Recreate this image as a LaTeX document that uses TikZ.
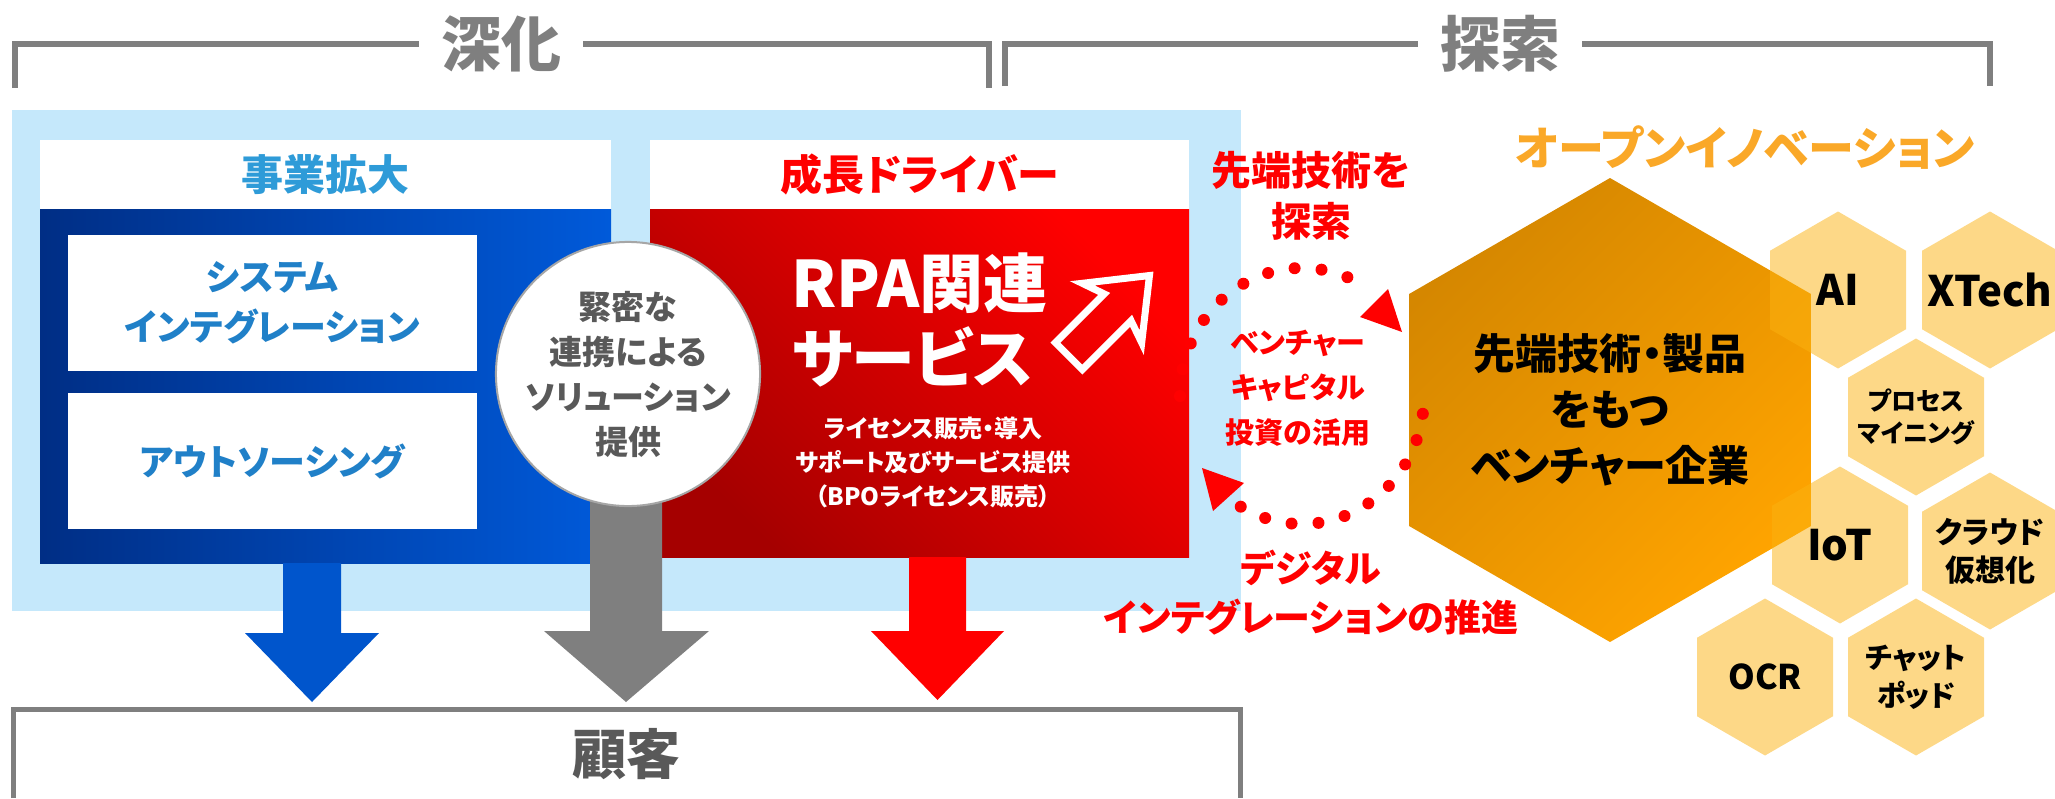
\documentclass[tikz,border=0pt]{standalone}
\usepackage{fontspec}
\setmainfont{Noto Sans CJK JP}[RawFeature=+palt]
\usetikzlibrary{shapes.geometric}

\definecolor{bracketgray}{RGB}{127,127,127}
\definecolor{textgray}{RGB}{89,89,89}
\definecolor{circlegray}{RGB}{166,166,166}
\definecolor{paleblue}{RGB}{197,232,251}
\definecolor{navy}{RGB}{0,46,133}
\definecolor{brightblue}{RGB}{0,90,218}
\definecolor{arrowblue}{RGB}{0,85,204}
\definecolor{skyblue}{RGB}{46,155,216}
\definecolor{textblue}{RGB}{32,128,200}
\definecolor{darkred}{RGB}{165,0,0}
\definecolor{amberdark}{RGB}{213,135,0}
\definecolor{amberlight}{RGB}{255,164,0}
\definecolor{hexorange}{RGB}{251,178,16}
\definecolor{openorange}{RGB}{250,168,40}

\tikzset{
  bracket/.style={draw=bracketgray, line width=6pt},
  heading/.style={text=bracketgray, inner sep=22pt, font=\fontsize{60}{60}\selectfont\bfseries},
  headbox/.style={fill=white, inner sep=0pt, minimum height=69pt, font=\fontsize{42}{42}\selectfont\bfseries},
  whitebox/.style={fill=white, inner sep=0pt, minimum width=409pt, minimum height=136pt,
    text=textblue, align=center, font=\fontsize{36}{50}\selectfont\bfseries},
  redtext/.style={text=red, align=center},
  honeycomb/.style={regular polygon, regular polygon sides=6, shape border rotate=30,
    minimum size=157pt, inner sep=0pt, fill=hexorange, fill opacity=0.5},
  hexlabel/.style={align=center, inner sep=0pt},
  dots/.style={draw=red, line width=12pt, line cap=round, dash pattern=on 0pt off 27pt},
}

\begin{document}
\begin{tikzpicture}[x=1pt, y=-1pt]
  \useasboundingbox (0,0) rectangle (2055,798);

  % Brackets on top
  \node[heading] (deepen) at (501,44) {深化};
  \node[heading] (explore) at (1500,44) {探索};
  \draw[bracket] (15,88) |- (deepen.west);
  \draw[bracket] (deepen.east) -| (989,88);
  \draw[bracket] (1005,86) |- (explore.west);
  \draw[bracket] (explore.east) -| (1990,86);

  % Light blue background
  \fill[paleblue] (12,110) rectangle (1241,611);

  % Left panel
  \node[headbox, minimum width=571pt, text=skyblue] (bizhead) at (325.5,174.5) {事業拡大};
  \node[inner sep=0pt, minimum width=571pt, minimum height=354pt,
        left color=navy, right color=brightblue] (bizbox) at (325.5,386) {};
  \node[whitebox] (sysint) at (272.5,303) {システム\\インテグレーション};
  \node[whitebox] (outsrc) at (272.5,461) {アウトソーシング};

  % Right panel
  \node[headbox, minimum width=539pt, text=red] (growhead) at (919.5,174.5) {成長ドライバー};
  \node[inner sep=0pt, minimum width=539pt, minimum height=348pt,
        left color=darkred, right color=red, shading angle=135] (rpabox) at (919.5,383) {};

  % Down arrows
  \fill[bracketgray] (590,374) -- (590,631) -- (544,631) -- (626,702)
    -- (709,631) -- (662,631) -- (662,374) -- cycle;
  \fill[arrowblue] (283,563) -- (283,633) -- (245,633) -- (312,702)
    -- (379,633) -- (341,633) -- (341,563) -- cycle;
  \fill[red] (909,557) -- (909,631) -- (871,631) -- (937.5,700)
    -- (1004,631) -- (966,631) -- (966,557) -- cycle;

  % Circle in the middle
  \node[circle, draw=circlegray, line width=2pt, fill=white, minimum size=255pt, inner sep=0pt,
        text=textgray, align=center, font=\fontsize{33}{45}\selectfont\bfseries]
        (link) at (628,374) {緊密な\\連携による\\ソリューション\\提供};

  % RPA texts
  \node[anchor=west, text=white, align=left, font=\fontsize{64}{75}\selectfont\bfseries]
        (rpa) at (788,320) {RPA関連\\サービス};
  \node[text=white, align=center, font=\fontsize{24}{34}\selectfont\bfseries]
        (license) at (933,462) {ライセンス販売・導入\\サポート及びサービス提供\\（BPOライセンス販売）};

  % Outlined arrow
  \begin{scope}[shift={(1153,272)}, rotate=45]
    \draw[white, line width=7pt, line join=miter]
      (-5,0) -- (-58,-42) -- (-50,-19) -- (-119,-19) -- (-119,19) -- (-50,19) -- (-58,42) -- cycle;
  \end{scope}

  % Customer box
  \draw[bracket, line width=5pt] (13,798) |- (1240,709) -- (1240,798);
  \node[text=textgray, font=\fontsize{54}{54}\selectfont\bfseries] (customer) at (626,754) {顧客};

  % Open innovation side
  \node[text=openorange, font=\fontsize{46}{46}\selectfont\bfseries] (openinno) at (1745,148) {オープンイノベーション};
  \node[regular polygon, regular polygon sides=6, shape border rotate=30, minimum size=464pt,
        inner sep=0pt, top color=amberdark, bottom color=amberlight, shading angle=45,
        align=center, font=\fontsize{42}{56}\selectfont\bfseries]
        (venturehex) at (1610,410) {先端技術・製品\\をもつ\\ベンチャー企業};

  \node[honeycomb] (ai) at (1838,290) {};
  \node[honeycomb] (xtech) at (1990,290) {};
  \node[honeycomb] (procmine) at (1916,417) {};
  \node[honeycomb] (iot) at (1840,545) {};
  \node[honeycomb] (cloud) at (1990,551) {};
  \node[honeycomb] (ocr) at (1765,677) {};
  \node[honeycomb] (chatbot) at (1916,677) {};
  \node[hexlabel, font=\fontsize{42}{42}\selectfont\bfseries] at (ai) {AI};
  \node[hexlabel, font=\fontsize{42}{42}\selectfont\bfseries] at (xtech) {XTech};
  \node[hexlabel, font=\fontsize{25}{32}\selectfont\bfseries] at (procmine) {プロセス\\マイニング};
  \node[hexlabel, font=\fontsize{42}{42}\selectfont\bfseries] at (iot) {IoT};
  \node[hexlabel, font=\fontsize{30}{38}\selectfont\bfseries] at (cloud) {クラウド\\仮想化};
  \node[hexlabel, font=\fontsize{34}{34}\selectfont\bfseries] at (ocr) {OCR};
  \node[hexlabel, font=\fontsize{29}{38}\selectfont\bfseries] at (chatbot) {チャット\\ポッド};

  % Red labels and dotted loop
  \node[redtext, font=\fontsize{40}{51}\selectfont\bfseries] (seek) at (1311,196) {先端技術を\\探索};
  \node[redtext, font=\fontsize{29}{45}\selectfont\bfseries] (venture) at (1298,388) {ベンチャー\\キャピタル\\投資の活用};
  \node[redtext, font=\fontsize{37}{49}\selectfont\bfseries] (digital) at (1311,593) {デジタル\\インテグレーションの推進};

  \coordinate (loop) at (1302,396);
  \draw[dots] (loop) ++(180:122 and 128) arc[start angle=180, end angle=298, x radius=122, y radius=128];
  \fill[red] (1360,317) -- (1388,289) -- (1402,332) -- cycle;
  \draw[dots] (loop) ++(8:122 and 128) arc[start angle=8, end angle=125, x radius=122, y radius=128];
  \fill[red] (1202,468) -- (1244,483) -- (1213,511) -- cycle;

\end{tikzpicture}
\end{document}
